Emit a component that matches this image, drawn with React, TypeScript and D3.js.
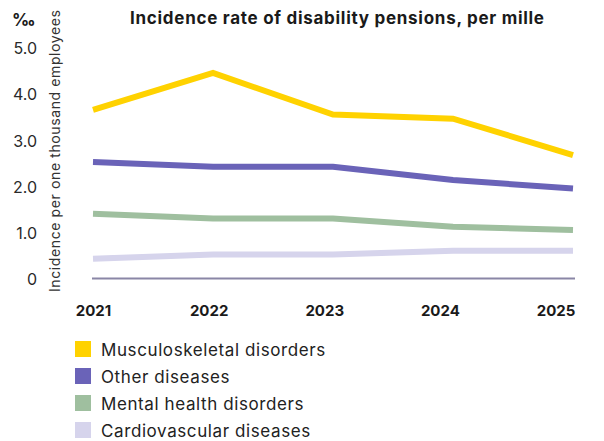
import React from "react";
import * as d3 from "d3";

const years = ["2021", "2022", "2023", "2024", "2025"];
const seriesNames = [
  "Musculoskeletal disorders",
  "Other diseases",
  "Mental health disorders",
  "Cardiovascular diseases",
];
const musculoskeletal = [3.65, 4.45, 3.55, 3.46, 2.67];
const otherDiseases = [2.52, 2.42, 2.42, 2.13, 1.95];
const mentalHealth = [1.4, 1.3, 1.3, 1.12, 1.05];
const cardiovascular = [0.43, 0.52, 0.52, 0.6, 0.6];
const yTicks = [0, 1, 2, 3, 4, 5];
const colors = ["#FFD200", "#6A63B8", "#9FBF9F", "#D6D4EC"];

const title = "Incidence rate of disability pensions, per mille";
const yTitle = "Incidence per one thousand employees";
const unit = "‰";

const FONT = "Inter, 'Open Sans', sans-serif";

export default function App() {
  const W = 604;
  const H = 441;
  const x = d3.scalePoint<string>().domain(years).range([93, 573]);
  const xLabel = d3.scalePoint<string>().domain(years).range([93.5, 556]);
  const y = d3.scaleLinear().domain([0, 5]).range([278.5, 47.5]);
  const data = [musculoskeletal, otherDiseases, mentalHealth, cardiovascular];
  const line = d3
    .line<number>()
    .x((_, i) => x(years[i]) as number)
    .y((d) => y(d));
  const legendY = d3.scalePoint<number>().domain([0, 1, 2, 3]).range([341, 422]);

  return (
    <svg
      width={W}
      height={H}
      style={{ position: "absolute", left: 0, top: 0, background: "#fff" }}
      fontFamily={FONT}
    >
      <text
        x={130}
        y={24}
        fontWeight={700}
        fontSize={17}
        fill="#1a1a1a"
        textLength={414}
        lengthAdjust="spacing"
      >
        {title}
      </text>
      <text x={12} y={26} fontWeight={700} fontSize={17} fill="#1a1a1a">
        {unit}
      </text>
      <text
        transform={`translate(60, 292) rotate(-90)`}
        fontSize={14}
        fill="#333"
        textLength={282}
        lengthAdjust="spacing"
      >
        {yTitle}
      </text>
      {yTicks.map((t) => (
        <text
          key={t}
          x={37}
          y={y(t) + 1}
          dy="0.35em"
          textAnchor="end"
          fontSize={16}
          fill="#2a2a2a"
        >
          {t === 0 ? "0" : d3.format(".1f")(t)}
        </text>
      ))}
      <line x1={92} x2={575} y1={y(0)} y2={y(0)} stroke="#8A86A6" strokeWidth={2} />
      {data
        .map((vals, i) => (
          <path
            key={i}
            d={line(vals) as string}
            fill="none"
            stroke={colors[i]}
            strokeWidth={6}
            strokeLinejoin="miter"
          />
        ))
        .reverse()}
      {years.map((yr) => (
        <text
          key={yr}
          x={xLabel(yr) as number}
          y={316}
          textAnchor="middle"
          fontWeight={700}
          fontSize={15}
          fill="#1a1a1a"
        >
          {yr}
        </text>
      ))}
      {seriesNames.map((name, i) => (
        <g key={name} transform={`translate(75, ${legendY(i)})`}>
          <rect width={16} height={16} fill={colors[i]} />
          <text x={26} y={15} fontSize={17} letterSpacing={0.6} fill="#222">
            {name}
          </text>
        </g>
      ))}
    </svg>
  );
}
